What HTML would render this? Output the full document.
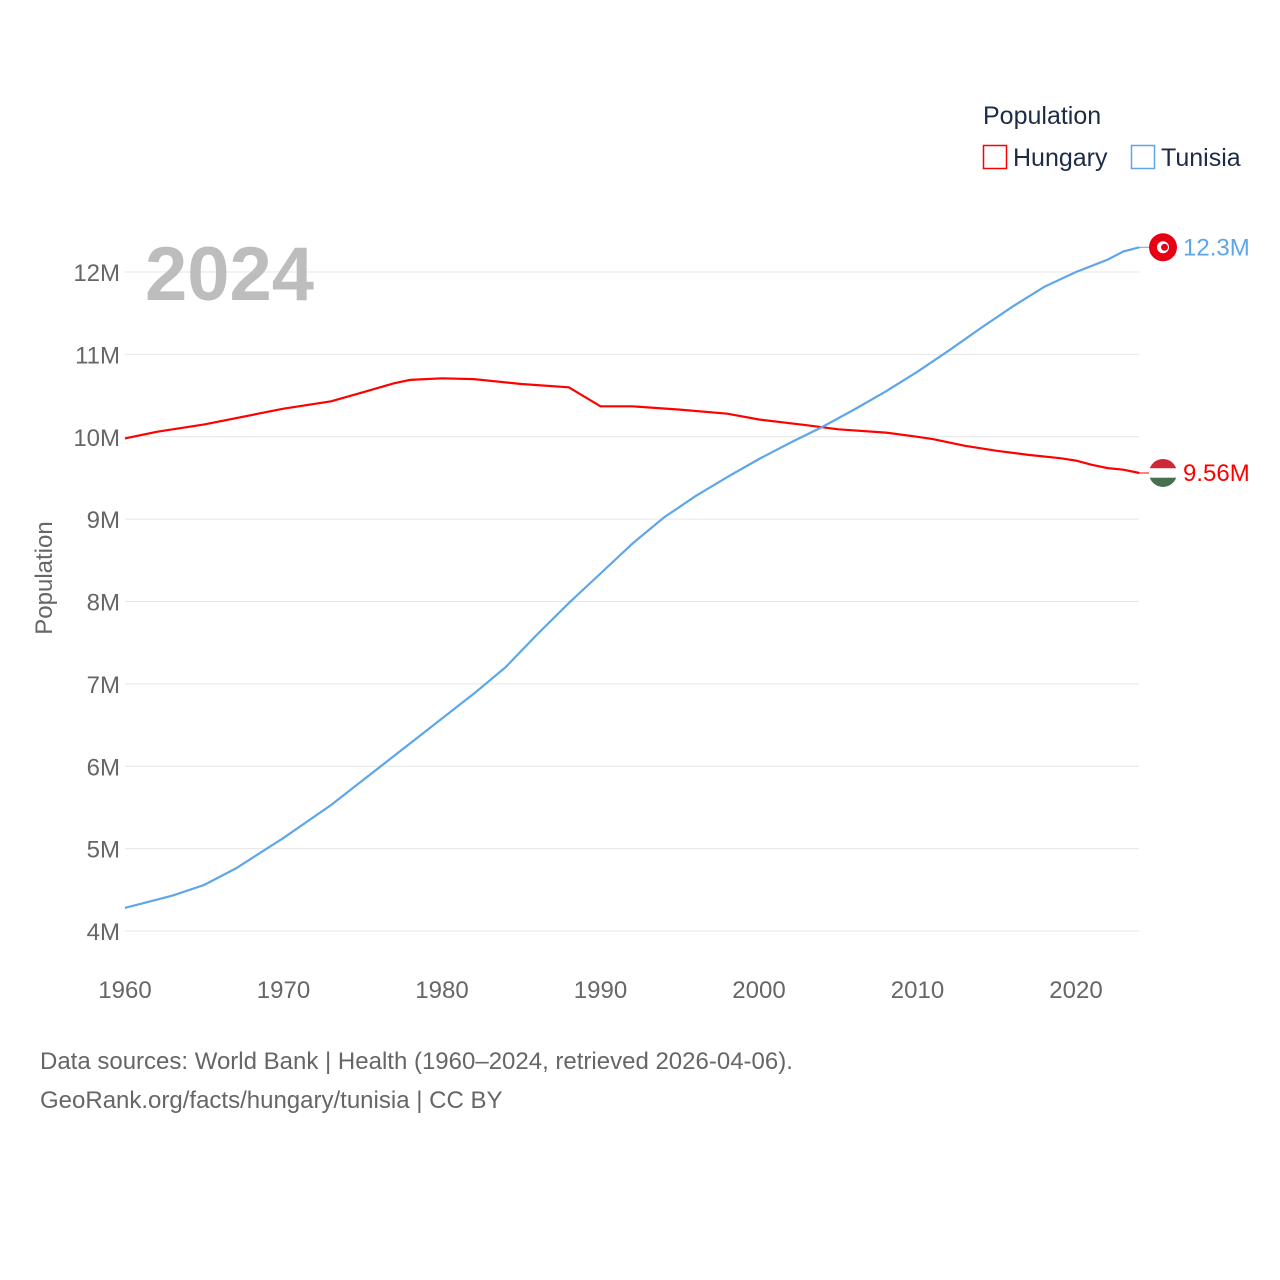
<!DOCTYPE html>
<html><head><meta charset="utf-8"><style>
body{margin:0;background:#fff;font-family:"Liberation Sans",sans-serif;}
svg{display:block}
</style></head><body>
<svg width="1280" height="1280" viewBox="0 0 1280 1280">
<g id="grid"></g>
<text x="145" y="300" font-size="76" font-weight="bold" fill="#bdbdbd">2024</text>
<text x="52" y="578" font-size="24" fill="#666" transform="rotate(-90 52 578)" text-anchor="middle">Population</text>
<g id="series"></g>
<text x="983" y="124" font-size="25" fill="#1d2b44">Population</text>
<g><rect x="983.5" y="145.5" width="23" height="23" fill="none" stroke="#f00" stroke-width="1.5"/><text x="1013" y="166" font-size="25" fill="#1d2b44">Hungary</text></g>
<g><rect x="1131.5" y="145.5" width="23" height="23" fill="none" stroke="#5da6ea" stroke-width="1.5"/><text x="1161" y="166" font-size="25" fill="#1d2b44">Tunisia</text></g>
<text x="40" y="1069" font-size="24" fill="#666">Data sources: World Bank | Health (1960–2024, retrieved 2026-04-06).</text>
<text x="40" y="1108" font-size="24" fill="#666">GeoRank.org/facts/hungary/tunisia | CC BY</text>
</svg>
<script>
const hunYears=[1960,1962,1965,1970,1973,1975,1977,1978,1980,1982,1985,1988,1990,1992,1995,1998,2000,2003,2005,2008,2010,2011,2013,2015,2017,2019,2020,2021,2022,2023,2024];
const hunVals=[9.98,10.06,10.15,10.34,10.43,10.54,10.65,10.69,10.71,10.70,10.64,10.60,10.37,10.37,10.33,10.28,10.21,10.14,10.09,10.05,10.00,9.97,9.89,9.83,9.78,9.74,9.71,9.66,9.62,9.60,9.56];
const tunYears=[1960,1963,1965,1967,1970,1973,1975,1978,1980,1982,1984,1986,1988,1990,1992,1994,1996,1998,2000,2002,2004,2006,2008,2010,2012,2014,2016,2018,2020,2022,2023,2024];
const tunVals=[4.28,4.43,4.56,4.76,5.13,5.53,5.83,6.28,6.58,6.88,7.20,7.60,7.98,8.34,8.70,9.02,9.28,9.51,9.73,9.93,10.12,10.33,10.55,10.79,11.05,11.32,11.58,11.82,12.00,12.15,12.25,12.30];
const yTicks=[4,5,6,7,8,9,10,11,12];
const xTicks=[1960,1970,1980,1990,2000,2010,2020];
const NS="http://www.w3.org/2000/svg";
const X=y=>125+(y-1960)*(1076-125)/60;
const Y=v=>931-(v-4)*(931-272)/8;
function mk(t,a,p){const e=document.createElementNS(NS,t);for(const k in a)e.setAttribute(k,a[k]);p.appendChild(e);return e;}
const g=document.getElementById('grid');
yTicks.forEach(v=>{
 const l=mk('line',{x1:125,x2:1139,y1:Y(v),y2:Y(v),stroke:'#e6e6e6','stroke-width':1},g);
 
 
 const t=mk('text',{x:120,y:Y(v)+9,'text-anchor':'end','font-size':24,fill:'#666'},g);
 t.textContent=v+'M';
 
 
});
xTicks.forEach(y=>{
 const t=mk('text',{x:X(y),y:998,'text-anchor':'middle','font-size':24,fill:'#666'},g);
 t.textContent=y;
 
 
});
const s=document.getElementById('series');
function line(ys,vs,c,name){
 const p=mk('path',{d:ys.map((y,i)=>(i?'L':'M')+X(y).toFixed(1)+' '+Y(vs[i]).toFixed(1)).join(''),fill:'none',stroke:c,'stroke-width':2.2},s);
 
 
}
line(hunYears,hunVals,'#f00','hungary-line');
line(tunYears,tunVals,'#5da6ea','tunisia-line');
const hl=hunVals[hunVals.length-1], tl=tunVals[tunVals.length-1];
const xe=X(2024);
// tunisia flag
const tf=mk('g',{},s);


mk('line',{x1:xe,x2:1150,y1:Y(tl),y2:Y(tl),stroke:'#5da6ea','stroke-width':1},tf);
mk('circle',{cx:1163,cy:Y(tl),r:14,fill:'#e70013'},tf);
mk('circle',{cx:1163,cy:Y(tl),r:6,fill:'#fff'},tf);
mk('circle',{cx:1164.5,cy:Y(tl),r:3.5,fill:'#e70013'},tf);
const tt=mk('text',{x:1183,y:Y(tl)+8,'font-size':24,fill:'#5da6ea'},s);
tt.textContent=tl.toFixed(1)+'M';


// hungary flag
const hf=mk('g',{},s);


const hy=Y(hl);
mk('line',{x1:xe,x2:1150,y1:hy,y2:hy,stroke:'#f00','stroke-width':1},hf);
const cp=mk('clipPath',{id:'hc'},hf);mk('circle',{cx:1163,cy:hy,r:14},cp);
const fg=mk('g',{'clip-path':'url(#hc)'},hf);
mk('rect',{x:1149,y:hy-14,width:28,height:9.4,fill:'#ce2939'},fg);
mk('rect',{x:1149,y:hy-4.7,width:28,height:9.4,fill:'#fff'},fg);
mk('rect',{x:1149,y:hy+4.7,width:28,height:9.4,fill:'#477050'},fg);
const ht=mk('text',{x:1183,y:hy+8,'font-size':24,fill:'#f00'},s);
ht.textContent=hl.toFixed(2)+'M';


</script>
</body></html>
